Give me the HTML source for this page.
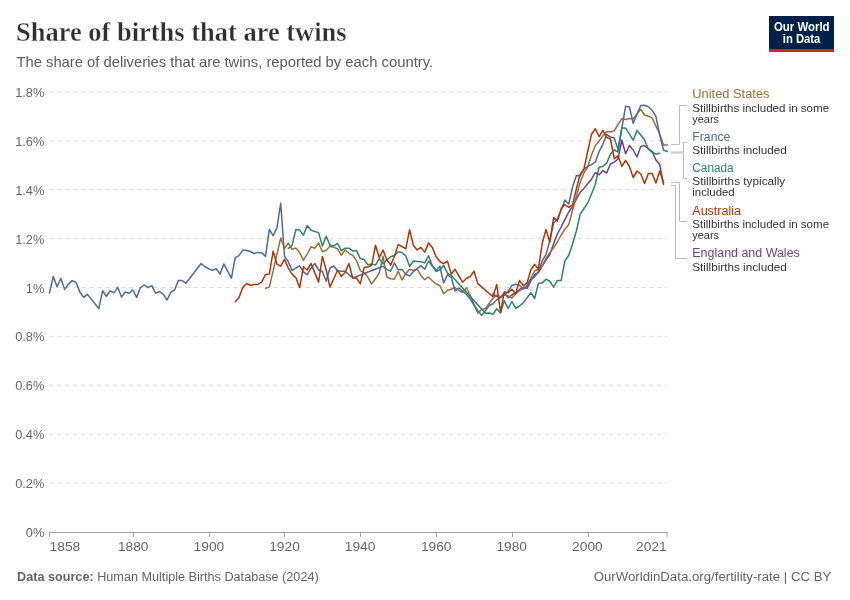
<!DOCTYPE html>
<html><head><meta charset="utf-8"><style>
html,body{margin:0;padding:0;background:#fff;}
svg{display:block;will-change:transform;}
text{font-family:"Liberation Sans",sans-serif;}
.grid{stroke:#dadada;stroke-width:1;stroke-dasharray:4,4;}
.tick{font-size:12.8px;fill:#666;}
.title{font-family:"Liberation Serif",serif;font-weight:bold;font-size:28px;fill:#2f2f2f;stroke:#fff;stroke-width:0.35px;}
.sub{font-size:14.8px;fill:#5b5b5b;}
.foot{font-size:12.5px;fill:#636363;}
.lname{font-size:12.5px;}
.lnote{font-size:11.5px;fill:#333;}
.logo{font-size:12px;font-weight:bold;fill:#fff;}
</style></head>
<body><svg width="850" height="600" viewBox="0 0 850 600">
<line x1="49.5" x2="667" y1="483.1" y2="483.1" class="grid"/>
<line x1="49.5" x2="667" y1="434.2" y2="434.2" class="grid"/>
<line x1="49.5" x2="667" y1="385.3" y2="385.3" class="grid"/>
<line x1="49.5" x2="667" y1="336.4" y2="336.4" class="grid"/>
<line x1="49.5" x2="667" y1="287.5" y2="287.5" class="grid"/>
<line x1="49.5" x2="667" y1="238.6" y2="238.6" class="grid"/>
<line x1="49.5" x2="667" y1="189.7" y2="189.7" class="grid"/>
<line x1="49.5" x2="667" y1="140.8" y2="140.8" class="grid"/>
<line x1="49.5" x2="667" y1="91.9" y2="91.9" class="grid"/>
<text x="44.3" y="537.0" class="tick" text-anchor="end">0%</text>
<text x="44.3" y="488.1" class="tick" text-anchor="end">0.2%</text>
<text x="44.3" y="439.2" class="tick" text-anchor="end">0.4%</text>
<text x="44.3" y="390.3" class="tick" text-anchor="end">0.6%</text>
<text x="44.3" y="341.4" class="tick" text-anchor="end">0.8%</text>
<text x="44.3" y="292.5" class="tick" text-anchor="end">1%</text>
<text x="44.3" y="243.6" class="tick" text-anchor="end">1.2%</text>
<text x="44.3" y="194.7" class="tick" text-anchor="end">1.4%</text>
<text x="44.3" y="145.8" class="tick" text-anchor="end">1.6%</text>
<text x="44.3" y="96.9" class="tick" text-anchor="end">1.8%</text>
<line x1="49.5" x2="667.5" y1="532.5" y2="532.5" stroke="#a0a0a0" stroke-width="1"/>
<line x1="49.5" x2="49.5" y1="532" y2="537" stroke="#a0a0a0" stroke-width="1"/>
<text x="49.6" y="550.9" class="tick xt" textLength="30.6" lengthAdjust="spacingAndGlyphs" text-anchor="start">1858</text>
<line x1="133.5" x2="133.5" y1="532" y2="537" stroke="#a0a0a0" stroke-width="1"/>
<text x="133.2" y="550.9" class="tick xt" textLength="30.6" lengthAdjust="spacingAndGlyphs" text-anchor="middle">1880</text>
<line x1="209.5" x2="209.5" y1="532" y2="537" stroke="#a0a0a0" stroke-width="1"/>
<text x="208.9" y="550.9" class="tick xt" textLength="30.6" lengthAdjust="spacingAndGlyphs" text-anchor="middle">1900</text>
<line x1="284.5" x2="284.5" y1="532" y2="537" stroke="#a0a0a0" stroke-width="1"/>
<text x="284.5" y="550.9" class="tick xt" textLength="30.6" lengthAdjust="spacingAndGlyphs" text-anchor="middle">1920</text>
<line x1="360.5" x2="360.5" y1="532" y2="537" stroke="#a0a0a0" stroke-width="1"/>
<text x="360.1" y="550.9" class="tick xt" textLength="30.6" lengthAdjust="spacingAndGlyphs" text-anchor="middle">1940</text>
<line x1="436.5" x2="436.5" y1="532" y2="537" stroke="#a0a0a0" stroke-width="1"/>
<text x="436.2" y="550.9" class="tick xt" textLength="30.6" lengthAdjust="spacingAndGlyphs" text-anchor="middle">1960</text>
<line x1="512.5" x2="512.5" y1="532" y2="537" stroke="#a0a0a0" stroke-width="1"/>
<text x="511.7" y="550.9" class="tick xt" textLength="30.6" lengthAdjust="spacingAndGlyphs" text-anchor="middle">1980</text>
<line x1="588.5" x2="588.5" y1="532" y2="537" stroke="#a0a0a0" stroke-width="1"/>
<text x="587.4" y="550.9" class="tick xt" textLength="30.6" lengthAdjust="spacingAndGlyphs" text-anchor="middle">2000</text>
<line x1="667.0" x2="667.0" y1="532" y2="537" stroke="#a0a0a0" stroke-width="1"/>
<text x="666.7" y="550.9" class="tick xt" textLength="30.6" lengthAdjust="spacingAndGlyphs" text-anchor="end">2021</text>
<polyline points="492.95,294.00 496.74,296.50 500.53,296.70 504.32,293.30 508.11,297.70 511.90,295.00 515.69,292.50 519.48,289.50 523.27,287.50 527.06,288.30 530.85,280.80 534.64,275.00 538.43,272.50 542.22,266.00 546.01,260.00 549.80,254.50 553.59,243.75 557.38,234.00 561.17,227.00 564.97,219.30 568.76,212.00 572.55,206.50 576.34,199.50 580.13,192.50 583.92,188.40 587.71,183.75 591.50,179.20 595.29,172.50 599.08,174.80 602.87,170.70 606.66,173.00 610.45,164.00 614.24,162.10 618.03,159.00 621.82,140.00 625.61,153.80 629.40,145.50 633.19,150.00 636.98,157.00 640.77,146.50 644.56,145.50 648.35,149.00 652.14,151.50 655.93,160.00 659.72,164.50 663.51,184.50" fill="none" stroke="#6d3e91" stroke-width="1.5" stroke-linejoin="round" stroke-linecap="round"/>
<polyline points="265.54,288.20 269.33,287.10 280.70,238.00 284.49,248.50 288.28,243.20 292.07,249.40 295.86,248.00 299.65,252.60 303.44,260.30 307.23,253.80 311.02,246.80 314.81,248.20 318.60,243.00 322.39,251.70 326.18,250.20 329.97,246.30 333.76,247.40 337.55,248.80 341.34,255.30 345.13,250.00 348.92,253.30 352.71,255.30 356.50,260.60 360.30,270.60 364.09,272.60 367.88,277.10 371.67,284.10 375.46,278.80 379.25,273.00 383.04,256.30 386.83,277.00 390.62,278.80 394.41,279.30 398.20,271.20 401.99,280.00 405.78,273.50 409.57,269.30 413.36,270.50 417.15,269.00 420.94,275.70 424.73,279.70 428.52,277.00 432.31,280.70 436.10,284.00 439.89,285.80 443.68,293.70 447.47,290.30 451.26,289.30 455.05,287.60 458.84,290.50 462.63,292.50 466.42,287.75 470.21,295.20 474.00,304.20 477.79,313.20 481.58,309.50 485.37,308.60 489.16,303.30 492.95,298.50 496.74,295.10 500.53,297.00 504.32,294.00 508.11,296.00 511.90,298.00 515.69,294.00 519.48,290.80 523.27,288.00 527.06,286.00 530.85,278.00 534.64,271.00 538.43,269.20 542.22,266.00 546.01,258.30 549.80,252.50 553.59,247.80 557.38,242.00 561.17,235.00 564.97,229.20 568.76,224.50 572.55,210.00 576.34,196.50 580.13,182.50 583.92,173.00 587.71,167.00 591.50,155.00 595.29,145.70 599.08,140.90 602.87,136.00 606.66,131.60 610.45,132.00 614.24,130.80 618.03,124.50 621.82,118.70 625.61,119.50 629.40,118.60 633.19,119.00 636.98,114.00 640.77,109.30 644.56,115.00 648.35,116.20 652.14,117.90 655.93,126.20 659.72,134.00 663.51,145.00 667.30,145.00" fill="none" stroke="#9e6c38" stroke-width="1.5" stroke-linejoin="round" stroke-linecap="round"/>
<polyline points="49.50,292.90 53.29,276.50 57.08,286.80 60.87,278.20 64.66,289.40 68.45,284.10 72.24,280.60 76.03,282.40 79.82,292.00 83.61,297.40 87.40,294.40 91.19,299.10 94.98,303.80 98.77,308.60 102.56,290.80 106.35,296.20 110.14,290.80 113.93,292.90 117.72,287.30 121.51,297.10 125.30,292.00 129.09,293.20 132.88,290.00 136.67,297.40 140.46,287.60 144.25,285.00 148.04,287.60 151.83,285.60 155.63,293.20 159.42,291.50 163.21,294.10 167.00,300.00 170.79,292.40 174.58,290.00 178.37,280.60 182.16,280.60 185.95,283.30 201.11,263.50 204.90,266.50 208.69,268.80 212.48,270.40 216.27,268.80 220.06,274.10 223.85,263.90 227.64,271.20 231.43,278.20 235.22,257.60 239.01,255.60 242.80,250.10 246.59,250.50 250.38,251.50 254.17,253.50 257.96,252.40 261.75,252.90 265.54,256.40 269.33,229.40 273.12,235.60 276.91,227.90 280.70,203.20 284.49,256.30 288.28,261.80 292.07,270.40 295.86,268.20 299.65,265.90 303.44,271.80 307.23,274.70 311.02,268.20 314.81,263.50 318.60,270.00 322.39,271.50 326.18,281.20 329.97,268.00 333.76,266.00 337.55,270.80 341.34,271.20 345.13,271.20 352.71,278.00 383.04,266.20 386.83,269.40 390.62,271.20 394.41,262.90 398.20,269.80 401.99,269.40 405.78,274.10 409.57,276.10 413.36,271.80 417.15,268.60 420.94,265.80 424.73,269.10 428.52,261.00 432.31,266.00 436.10,270.30 439.89,266.30 443.68,283.00 447.47,274.80 451.26,277.50 455.05,291.00 458.84,288.00 462.63,291.00 466.42,294.50 470.21,299.00 474.00,305.00 477.79,310.50 481.58,315.40 485.37,310.70 489.16,305.50 492.95,303.80 496.74,299.80 500.53,297.50 504.32,295.00 508.11,291.50 511.90,285.40 515.69,284.20 519.48,285.20 523.27,289.20 527.06,285.40 530.85,279.20 534.64,276.80 538.43,271.50 542.22,261.00 546.01,254.30 549.80,241.00 553.59,223.00 557.38,219.00 561.17,210.00 564.97,200.00 568.76,204.00 572.55,187.00 576.34,175.50 580.13,176.00 583.92,169.00 587.71,166.30 591.50,164.60 595.29,162.00 599.08,151.70 602.87,144.30 606.66,134.50 610.45,137.00 614.24,138.00 618.03,149.50 621.82,128.00 625.61,106.30 629.40,107.00 633.19,123.30 636.98,114.00 640.77,105.50 644.56,105.30 648.35,106.80 652.14,110.30 655.93,116.50 659.72,135.00 663.51,150.00 667.30,151.50" fill="none" stroke="#4c6a9c" stroke-width="1.5" stroke-linejoin="round" stroke-linecap="round"/>
<polyline points="288.28,248.30 292.07,245.60 295.86,229.40 299.65,230.10 303.44,235.20 307.23,225.60 311.02,230.30 314.81,231.50 318.60,232.60 322.39,246.00 326.18,236.30 329.97,245.30 333.76,245.90 337.55,243.50 341.34,250.60 345.13,248.20 348.92,248.20 352.71,250.90 356.50,250.60 360.30,258.60 364.09,259.60 367.88,264.70 371.67,263.90 375.46,265.10 379.25,258.60 383.04,263.90 386.83,260.00 390.62,256.80 394.41,255.50 398.20,251.80 401.99,252.50 405.78,255.90 409.57,266.20 413.36,261.00 417.15,261.50 420.94,261.70 424.73,262.90 428.52,255.80 432.31,265.60 436.10,271.50 439.89,269.70 443.68,265.60 447.47,273.20 451.26,275.60 485.37,313.25 489.16,313.00 492.95,314.30 496.74,308.75 500.53,312.90 504.32,300.60 508.11,308.50 511.90,301.50 515.69,308.30 519.48,306.00 523.27,302.70 527.06,297.90 530.85,292.70 534.64,298.50 538.43,283.20 542.22,282.90 546.01,279.20 549.80,281.25 553.59,287.10 557.38,280.40 561.17,280.40 564.97,260.50 568.76,255.30 572.55,244.00 576.34,231.00 580.13,214.60 583.92,208.50 587.71,203.00 591.50,194.00 595.29,184.50 599.08,167.20 602.87,166.25 606.66,163.20 610.45,154.00 614.24,150.00 618.03,152.00 621.82,127.70 625.61,128.20 629.40,134.20 633.19,140.20 636.98,130.50 640.77,135.00 644.56,140.00 648.35,149.00 652.14,152.50 655.93,154.00 659.72,153.20" fill="none" stroke="#2c8465" stroke-width="1.5" stroke-linejoin="round" stroke-linecap="round"/>
<polyline points="235.22,301.80 239.01,297.60 242.80,287.60 246.59,283.50 250.38,285.30 254.17,284.50 257.96,284.50 261.75,281.80 265.54,274.40 269.33,274.10 273.12,251.20 276.91,264.10 280.70,266.10 284.49,259.40 288.28,268.20 292.07,274.10 295.86,277.60 299.65,287.60 303.44,266.80 307.23,270.00 311.02,263.50 314.81,272.90 318.60,282.10 322.39,256.50 326.18,270.00 329.97,287.10 333.76,278.80 337.55,270.20 341.34,276.50 345.13,272.40 348.92,263.50 352.71,278.00 356.50,278.00 360.30,283.90 364.09,267.60 367.88,267.10 371.67,265.30 375.46,245.30 379.25,257.60 383.04,250.00 386.83,260.00 390.62,265.10 394.41,256.50 398.20,244.40 401.99,246.50 405.78,248.80 409.57,229.80 413.36,245.30 417.15,249.90 420.94,247.40 424.73,252.10 428.52,242.90 432.31,247.40 436.10,256.80 439.89,261.50 443.68,263.70 447.47,261.10 451.26,274.10 455.05,269.30 458.84,275.90 462.63,282.30 466.42,278.50 470.21,276.60 474.00,271.20 477.79,283.60 492.95,296.70 496.74,284.50 500.53,312.30 504.32,291.70 508.11,292.70 511.90,289.20 515.69,293.70 519.48,280.40 523.27,285.70 527.06,282.90 530.85,269.70 534.64,264.40 538.43,269.20 542.22,243.20 546.01,229.50 549.80,242.20 553.59,217.50 557.38,221.10 561.17,208.70 564.97,204.50 568.76,207.30 572.55,204.80 576.34,189.00 580.13,174.30 583.92,169.20 587.71,151.50 591.50,134.20 595.29,128.75 599.08,136.70 602.87,130.40 606.66,137.50 610.45,139.00 614.24,158.75 618.03,155.80 621.82,166.25 625.61,160.40 629.40,166.50 633.19,177.50 636.98,171.00 640.77,174.00 644.56,183.50 648.35,173.50 652.14,173.50 655.93,183.00 659.72,171.00 663.51,182.50" fill="none" stroke="#b13507" stroke-width="1.5" stroke-linejoin="round" stroke-linecap="round"/>
<path d="M671,144.5 H679.5 V105.5 H687" fill="none" stroke="#bbb" stroke-width="1"/>
<path d="M671,152 H683.5 V142.5 H687" fill="none" stroke="#bbb" stroke-width="1"/>
<path d="M671,153 H683.5 V178.5 H687" fill="none" stroke="#bbb" stroke-width="1"/>
<path d="M671,182.5 H679.5 V221.5 H687" fill="none" stroke="#bbb" stroke-width="1"/>
<path d="M671,185.5 H675.5 V258.5 H687" fill="none" stroke="#bbb" stroke-width="1"/>
<text x="692.3" y="98.1" class="lname" fill="#9e6c38" textLength="77.2" lengthAdjust="spacingAndGlyphs">United States</text>
<text x="692.3" y="111.5" class="lnote" textLength="136.8" lengthAdjust="spacingAndGlyphs">Stillbirths included in some</text>
<text x="692.3" y="122.6" class="lnote" textLength="26.7" lengthAdjust="spacingAndGlyphs">years</text>
<text x="692.3" y="140.9" class="lname" fill="#4c6a9c" textLength="38.1" lengthAdjust="spacingAndGlyphs">France</text>
<text x="692.3" y="154" class="lnote" textLength="94.5" lengthAdjust="spacingAndGlyphs">Stillbirths included</text>
<text x="692.3" y="171.9" class="lname" fill="#2c8465" textLength="41.4" lengthAdjust="spacingAndGlyphs">Canada</text>
<text x="692.3" y="185.4" class="lnote" textLength="92.9" lengthAdjust="spacingAndGlyphs">Stillbirths typically</text>
<text x="692.3" y="196.4" class="lnote" textLength="42.4" lengthAdjust="spacingAndGlyphs">included</text>
<text x="692.3" y="214.9" class="lname" fill="#b13507" textLength="48.6" lengthAdjust="spacingAndGlyphs">Australia</text>
<text x="692.3" y="228" class="lnote" textLength="136.8" lengthAdjust="spacingAndGlyphs">Stillbirths included in some</text>
<text x="692.3" y="239" class="lnote" textLength="26.7" lengthAdjust="spacingAndGlyphs">years</text>
<text x="692.3" y="257.1" class="lname" fill="#6d3e91" textLength="107.5" lengthAdjust="spacingAndGlyphs">England and Wales</text>
<text x="692.3" y="270.6" class="lnote" textLength="94.5" lengthAdjust="spacingAndGlyphs">Stillbirths included</text>
<text x="16" y="40.8" class="title" textLength="330.6" lengthAdjust="spacingAndGlyphs">Share of births that are twins</text>
<text x="16.4" y="66.5" class="sub" textLength="416.7" lengthAdjust="spacingAndGlyphs">The share of deliveries that are twins, reported by each country.</text>
<text x="17" y="580.8" class="foot" textLength="301.7" lengthAdjust="spacingAndGlyphs"><tspan font-weight="bold">Data source:</tspan> Human Multiple Births Database (2024)</text>
<text x="831.3" y="580.8" class="foot" textLength="237.6" lengthAdjust="spacingAndGlyphs" text-anchor="end">OurWorldinData.org/fertility-rate | CC BY</text>
<rect x="769" y="16" width="65" height="36" fill="#002147"/>
<rect x="769" y="49" width="65" height="3" fill="#ce261e"/>
<text x="773.9" y="30.9" class="logo" textLength="55.7" lengthAdjust="spacingAndGlyphs">Our World</text>
<text x="782.8" y="42.8" class="logo" textLength="37.6" lengthAdjust="spacingAndGlyphs">in Data</text>
</svg></body></html>
